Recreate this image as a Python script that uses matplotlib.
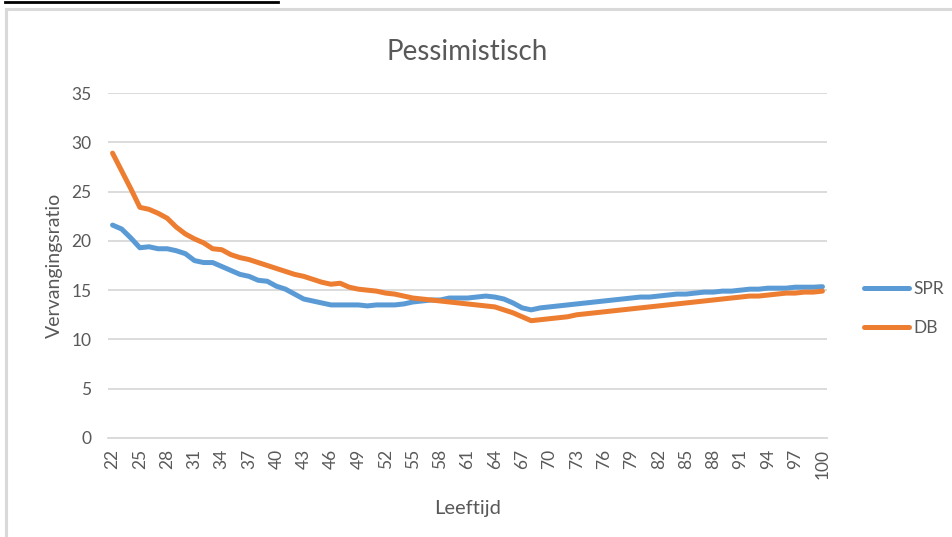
import numpy as np
import matplotlib
matplotlib.use("Agg")
import matplotlib.pyplot as plt
from matplotlib.patches import Rectangle
from matplotlib.lines import Line2D

plt.rcParams['font.family'] = ['Lato', 'DejaVu Sans']

ages = list(range(22, 101))

spr = [21.6, 21.2, 20.3, 19.3, 19.4, 19.2, 19.2, 19.0, 18.7, 18.0,
       17.8, 17.8, 17.4, 17.0, 16.6, 16.4, 16.0, 15.9, 15.4, 15.1,
       14.6, 14.1, 13.9, 13.7, 13.5, 13.5, 13.5, 13.5, 13.4, 13.5,
       13.5, 13.5, 13.6, 13.8, 13.9, 14.0, 14.0, 14.2, 14.2, 14.2,
       14.3, 14.4, 14.3, 14.1, 13.7, 13.2, 13.0, 13.2, 13.3, 13.4,
       13.5, 13.6, 13.7, 13.8, 13.9, 14.0, 14.1, 14.2, 14.3, 14.3,
       14.4, 14.5, 14.6, 14.6, 14.7, 14.8, 14.8, 14.9, 14.9, 15.0,
       15.1, 15.1, 15.2, 15.2, 15.2, 15.3, 15.3, 15.3, 15.35]

db = [28.9, 27.1, 25.3, 23.4, 23.2, 22.8, 22.3, 21.4, 20.7, 20.2,
      19.8, 19.2, 19.1, 18.6, 18.3, 18.1, 17.8, 17.5, 17.2, 16.9,
      16.6, 16.4, 16.1, 15.8, 15.6, 15.7, 15.3, 15.1, 15.0, 14.9,
      14.7, 14.6, 14.4, 14.2, 14.1, 14.0, 13.9, 13.8, 13.7, 13.6,
      13.5, 13.4, 13.3, 13.0, 12.7, 12.3, 11.9, 12.0, 12.1, 12.2,
      12.3, 12.5, 12.6, 12.7, 12.8, 12.9, 13.0, 13.1, 13.2, 13.3,
      13.4, 13.5, 13.6, 13.7, 13.8, 13.9, 14.0, 14.1, 14.2, 14.3,
      14.4, 14.4, 14.5, 14.6, 14.7, 14.7, 14.8, 14.8, 14.9]

x_ticks = list(range(22, 101, 3))
y_ticks = [0, 5, 10, 15, 20, 25, 30, 35]

W, H = 953, 537
fig = plt.figure(figsize=(W / 100, H / 100), dpi=100)

# chart frame and the black line above it
fig.patches.append(Rectangle((6 / W, -0.05), 1.1, 1 - 9 / H + 0.05, transform=fig.transFigure,
                             fill=False, edgecolor="#d9d9d9", linewidth=2.2))
fig.lines.append(Line2D([5 / W, 278 / W], [1 - 2 / H, 1 - 2 / H], transform=fig.transFigure,
                        color="black", linewidth=2))

ax = fig.add_axes([108 / W, 99 / H, 719 / W, 345 / H])

grey = "#595959"
ax.plot(ages, spr, color="#5b9bd5", linewidth=3.6, solid_capstyle="round", label="SPR", zorder=3)
ax.plot(ages, db, color="#ed7d31", linewidth=3.6, solid_capstyle="round", label="DB", zorder=3)

ax.set_xlim(21.5, 100.5)
ax.set_ylim(0, 35)
ax.set_yticks(y_ticks)
ax.set_xticks(x_ticks)
ax.set_xticklabels([str(a) for a in x_ticks], rotation=90)
ax.grid(axis="y", color="#d9d9d9", linewidth=1.3)
ax.set_axisbelow(True)
for s in ["top", "right", "left"]:
    ax.spines[s].set_visible(False)
ax.spines["bottom"].set_color("#d9d9d9")
ax.spines["bottom"].set_linewidth(1.3)
ax.tick_params(length=0, labelsize=12.5, labelcolor=grey)
ax.tick_params(axis="y", pad=12)
ax.tick_params(axis="x", pad=8)

ax.set_title("Pessimistisch", fontsize=20, color=grey, pad=24)
ax.set_xlabel("Leeftijd", fontsize=14.5, color=grey, labelpad=15)
ax.set_ylabel("Vervangingsratio", fontsize=14, color=grey, labelpad=6)

leg = ax.legend(loc="center left", bbox_to_anchor=(1.03, 0.375), frameon=False,
                fontsize=12.5, labelcolor=grey, handlelength=2.6, handletextpad=0.25,
                labelspacing=1.3)

fig.savefig("out.png", dpi=100)
